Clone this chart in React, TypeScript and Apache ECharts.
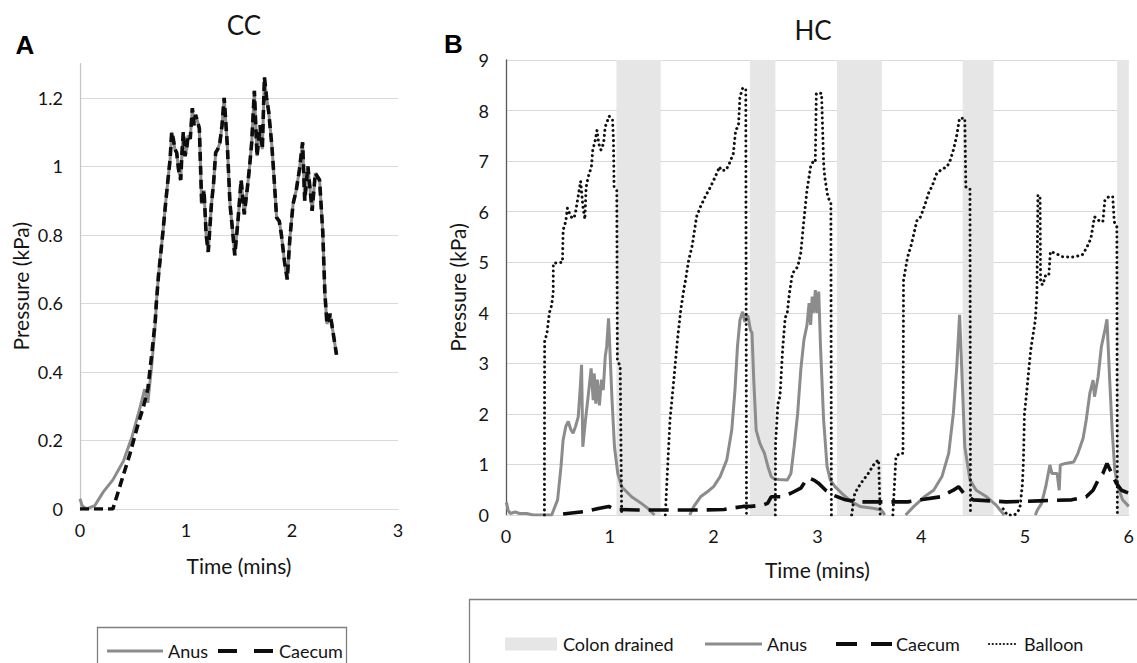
import React, { useEffect, useRef } from "react";
import * as echarts from "echarts";

const FONT = "Lato";
const TXT = "#141414";

// ---------- Panel A : CC ----------
const ccAnusStart = [
  [0, 0.03], [0.02, 0.01], [0.06, 0], [0.14, 0.01], [0.22, 0.05], [0.31, 0.085],
  [0.41, 0.14], [0.49, 0.21], [0.57, 0.3], [0.61, 0.35], [0.64, 0.31], [0.68, 0.43], [0.71, 0.54],
];
const ccCaecumStart = [
  [0, 0], [0.22, 0], [0.31, 0], [0.39, 0.08], [0.47, 0.16], [0.55, 0.25], [0.6, 0.3],
  [0.64, 0.35], [0.68, 0.46], [0.71, 0.55],
];
const ccShared = [
  [0.72, 0.6], [0.74, 0.68], [0.76, 0.74], [0.786, 0.82], [0.81, 0.9], [0.833, 0.97], [0.85, 1.02],
  [0.865, 1.1], [0.88, 1.08], [0.895, 1.05], [0.912, 1.04], [0.93, 0.99], [0.95, 0.96], [0.962, 1.04],
  [0.975, 1.1], [0.99, 1.03], [1.006, 1.05], [1.02, 1.09], [1.04, 1.08], [1.06, 1.17], [1.075, 1.12],
  [1.09, 1.15], [1.11, 1.13], [1.126, 1.11], [1.148, 0.89], [1.17, 0.93], [1.19, 0.8], [1.21, 0.75],
  [1.24, 0.89], [1.26, 0.95], [1.28, 1.04], [1.3, 1.05], [1.32, 1.07], [1.34, 1.12], [1.36, 1.2],
  [1.39, 1.06], [1.415, 0.89], [1.44, 0.81], [1.46, 0.74], [1.49, 0.84], [1.52, 0.96], [1.55, 0.86],
  [1.58, 0.94], [1.6, 1.0], [1.62, 1.07], [1.645, 1.22], [1.67, 1.03], [1.7, 1.12], [1.72, 1.05],
  [1.74, 1.26], [1.76, 1.2], [1.78, 1.16], [1.81, 1.06], [1.83, 0.97], [1.855, 0.85], [1.88, 0.84],
  [1.9, 0.8], [1.93, 0.72], [1.955, 0.67], [1.98, 0.79], [2.01, 0.89], [2.04, 0.93], [2.07, 0.99],
  [2.1, 1.07], [2.12, 0.9], [2.15, 1.0], [2.19, 0.87], [2.22, 0.98], [2.26, 0.96], [2.29, 0.81],
  [2.31, 0.63], [2.33, 0.54], [2.36, 0.57], [2.39, 0.51], [2.42, 0.45],
];
const ccAnus = [...ccAnusStart, ...ccShared];
const ccCaecum = [...ccCaecumStart, ...ccShared];

// ---------- Panel B : HC ----------
const hcDrained = [
  [1.064, 1.49], [2.35, 2.596], [3.188, 3.621], [4.4, 4.698], [5.888, 6.0],
];
const hcAnus = [
  [0, 0.25], [0.006, 0.23], [0.02, 0.1], [0.04, 0.03], [0.09, 0.06], [0.13, 0.03], [0.2, 0.03],
  [0.26, 0], [0.44, 0], [0.497, 0.3], [0.53, 0.96], [0.55, 1.48], [0.576, 1.75], [0.6, 1.85],
  [0.624, 1.69], [0.646, 1.62], [0.67, 1.75], [0.696, 1.94], [0.716, 2.54], [0.728, 2.97],
  [0.74, 1.35], [0.766, 1.88], [0.798, 2.47], [0.82, 2.9], [0.84, 2.27], [0.85, 2.8], [0.865, 2.2],
  [0.88, 2.68], [0.9, 2.17], [0.92, 2.68], [0.937, 2.47], [0.956, 3.13], [0.97, 3.33], [0.988, 3.89],
  [1.0, 3.33], [1.02, 2.34], [1.045, 1.35], [1.077, 0.82], [1.114, 0.56], [1.21, 0.36], [1.304, 0.23],
  [1.367, 0.13], [1.43, 0], [1.6, null],
  [1.77, 0], [1.81, 0.17], [1.874, 0.36], [1.94, 0.46], [2.0, 0.56], [2.063, 0.76], [2.127, 1.09],
  [2.175, 1.68], [2.206, 2.47], [2.23, 3.33], [2.254, 3.86], [2.28, 4.02], [2.3, 3.82], [2.33, 3.95],
  [2.355, 3.66], [2.37, 3.6], [2.387, 2.67], [2.41, 1.68], [2.445, 1.42], [2.49, 1.22], [2.523, 0.96],
  [2.555, 0.76], [2.586, 0.71], [2.63, 0.7], [2.71, 0.69], [2.745, 0.82], [2.776, 1.35], [2.81, 2.01],
  [2.84, 2.87], [2.87, 3.46], [2.9, 3.76], [2.92, 4.19], [2.935, 3.76], [2.95, 4.32], [2.966, 4.0],
  [2.98, 4.45], [2.998, 4.0], [3.013, 4.42], [3.03, 3.33], [3.06, 1.88], [3.093, 0.96], [3.125, 0.69],
  [3.17, 0.56], [3.235, 0.43], [3.33, 0.26], [3.41, 0.17], [3.55, 0.13], [3.615, 0.1], [3.65, 0],
  [3.75, null],
  [3.85, 0], [3.93, 0.17], [4.03, 0.36], [4.12, 0.49], [4.2, 0.76], [4.265, 1.22], [4.31, 2.01],
  [4.343, 2.93], [4.37, 3.96], [4.39, 2.93], [4.42, 1.35], [4.47, 0.69], [4.53, 0.49], [4.63, 0.36],
  [4.72, 0.2], [4.8, 0], [4.95, null],
  [5.1, 0], [5.12, 0.1], [5.16, 0.23], [5.2, 0.56], [5.24, 0.99], [5.26, 0.82], [5.31, 0.82],
  [5.33, 0.49], [5.34, 0.99], [5.39, 1.02], [5.47, 1.05], [5.51, 1.22], [5.56, 1.52], [5.59, 1.88],
  [5.625, 2.41], [5.656, 2.67], [5.67, 2.34], [5.705, 2.74], [5.736, 3.33], [5.77, 3.66], [5.79, 3.87],
  [5.816, 2.67], [5.84, 1.68], [5.865, 0.89], [5.895, 0.56], [5.94, 0.3], [6.0, 0.17],
];
const hcCaecum = [
  [0.55, 0.02], [0.59, 0.03], [0.77, 0.07], [0.89, 0.13], [0.99, 0.17], [1.05, 0.11], [1.27, 0.1],
  [1.58, 0.1], [1.906, 0.1], [2.1, 0.11], [2.286, 0.17], [2.365, 0.17], [2.476, 0.2], [2.52, 0.23],
  [2.555, 0.36], [2.65, 0.36], [2.745, 0.43], [2.84, 0.53], [2.9, 0.72], [2.92, 0.73], [2.966, 0.69],
  [3.01, 0.63], [3.08, 0.49], [3.157, 0.39], [3.27, 0.3], [3.39, 0.26], [3.62, 0.26], [3.87, 0.26],
  [3.995, 0.3], [4.185, 0.36], [4.31, 0.49], [4.36, 0.56], [4.41, 0.43], [4.5, 0.3], [4.82, 0.26],
  [5.135, 0.28], [5.45, 0.3], [5.59, 0.36], [5.656, 0.49], [5.705, 0.69], [5.75, 0.82], [5.79, 1.02],
  [5.83, 0.85], [5.88, 0.63], [5.93, 0.49], [6.0, 0.43],
];
const hcBalloon = [
  [0.37, 0], [0.372, 3.43], [0.395, 3.6], [0.418, 4.0], [0.44, 4.15], [0.455, 4.4], [0.456, 4.98],
  [0.544, 5.0], [0.551, 5.64], [0.575, 5.8], [0.592, 6.07], [0.624, 5.9], [0.655, 5.87], [0.671, 6.0],
  [0.703, 6.4], [0.719, 6.6], [0.741, 6.1], [0.76, 5.85], [0.772, 6.49], [0.791, 6.68], [0.823, 6.89],
  [0.836, 7.22], [0.861, 7.42], [0.877, 7.61], [0.893, 7.35], [0.915, 7.22], [0.94, 7.35], [0.956, 7.68],
  [0.994, 7.89], [1.026, 7.82], [1.035, 7.42], [1.041, 6.49], [1.067, 6.42], [1.073, 3.07], [1.1, 2.94],
  [1.114, 0], [1.3, null],
  [1.535, 0], [1.551, 0.69], [1.58, 1.88], [1.62, 2.74], [1.652, 3.47], [1.684, 4.06], [1.716, 4.5],
  [1.73, 4.65], [1.76, 5.04], [1.795, 5.34], [1.836, 5.9], [1.874, 6.1], [1.92, 6.3], [1.97, 6.49],
  [2.016, 6.69], [2.058, 6.89], [2.07, 6.82], [2.12, 6.82], [2.153, 6.96], [2.19, 7.15], [2.213, 7.61],
  [2.24, 7.7], [2.254, 8.27], [2.28, 8.44], [2.31, 8.44], [2.317, 0], [2.45, null],
  [2.595, 0], [2.597, 1.4], [2.62, 2.2], [2.64, 2.35], [2.666, 3.3], [2.69, 3.9], [2.71, 4.0],
  [2.73, 4.38], [2.76, 4.78], [2.81, 4.91], [2.84, 5.18], [2.87, 5.83], [2.9, 6.43], [2.935, 6.89],
  [2.966, 7.02], [2.98, 7.0], [2.99, 8.34], [3.04, 8.34], [3.06, 6.96], [3.07, 6.7], [3.1, 6.3],
  [3.13, 6.16], [3.135, 0], [3.2, null],
  [3.33, 0], [3.36, 0.43], [3.42, 0.63], [3.49, 0.82], [3.55, 1.02], [3.59, 1.09], [3.605, 0], [3.65, null],
  [3.727, 0], [3.757, 1.15], [3.79, 1.22], [3.825, 1.22], [3.83, 4.65], [3.87, 5.11], [3.9, 5.31],
  [3.93, 5.57], [3.96, 5.83], [3.995, 5.9], [4.04, 6.16], [4.07, 6.36], [4.11, 6.53], [4.15, 6.76],
  [4.2, 6.84], [4.25, 6.89], [4.28, 7.02], [4.31, 7.22], [4.34, 7.48], [4.37, 7.85], [4.42, 7.85],
  [4.43, 6.49], [4.47, 6.46], [4.475, 0], [4.6, null],
  [4.79, 0.12], [4.83, 0.0], [4.9, 0.0], [4.95, 0.12], [4.975, 0.6], [4.985, 1.05], [4.995, 2.0],
  [5.015, 2.4], [5.055, 3.26], [5.1, 3.86], [5.115, 4.38], [5.125, 6.33], [5.145, 6.3], [5.15, 4.6],
  [5.17, 4.55], [5.2, 4.75], [5.23, 4.75], [5.245, 5.21], [5.29, 5.18], [5.36, 5.11], [5.45, 5.1],
  [5.55, 5.14], [5.59, 5.27], [5.635, 5.47], [5.67, 5.9], [5.705, 5.83], [5.75, 5.8], [5.77, 6.23],
  [5.81, 6.3], [5.845, 6.3], [5.86, 5.8], [5.885, 5.7], [5.89, 0],
];

const tickLabel = { fontFamily: FONT, fontSize: 18, color: TXT };
const nameStyle = { fontFamily: FONT, fontSize: 21, color: TXT };

export default function App() {
  const ref = useRef<HTMLDivElement>(null);
  useEffect(() => {
    if (!ref.current) return;
    const chart = echarts.init(ref.current, undefined, { renderer: "svg" });
    const grey = "#8c8c8c";
    const option: any = {
      animation: false,
      backgroundColor: "#ffffff",
      grid: [
        { left: 80, top: 63.5, width: 318, height: 445.5 },
        { left: 506, top: 60, width: 631, height: 455 },
      ],
      xAxis: [
        {
          gridIndex: 0, type: "value", min: 0, max: 3, interval: 1,
          axisLine: { lineStyle: { color: "#d9d9d9", width: 1.2 } },
          axisTick: { show: false }, splitLine: { show: false },
          axisLabel: { ...tickLabel, margin: 12 },
          name: "Time (mins)", nameLocation: "middle", nameGap: 46, nameTextStyle: nameStyle,
        },
        {
          gridIndex: 1, type: "value", min: 0, max: 6, interval: 1,
          axisLine: { lineStyle: { color: "#d9d9d9", width: 1.2 } },
          axisTick: { show: false }, splitLine: { show: false },
          axisLabel: { ...tickLabel, margin: 12 },
          name: "Time (mins)", nameLocation: "middle", nameGap: 44, nameTextStyle: nameStyle,
        },
      ],
      yAxis: [
        {
          gridIndex: 0, type: "value", min: 0, max: 1.3, interval: 0.2,
          axisLine: { show: true, lineStyle: { color: "#c4c4c4", width: 1.2 } },
          axisTick: { show: false },
          axisLabel: { ...tickLabel, margin: 17, showMaxLabel: false },
          splitLine: {
            lineStyle: {
              color: ["#d9d9d9", "#d9d9d9", "#d9d9d9", "#d9d9d9", "#d9d9d9", "#d9d9d9", "#d9d9d9", "rgba(0,0,0,0)"],
              width: 1,
            },
          },
          name: "Pressure (kPa)", nameLocation: "middle", nameRotate: 90, nameGap: 49, nameTextStyle: nameStyle,
        },
        {
          gridIndex: 1, type: "value", min: 0, max: 9, interval: 1,
          axisLine: { show: true, lineStyle: { color: "#595959", width: 1.3 } },
          axisTick: { show: false },
          axisLabel: { ...tickLabel, margin: 17 },
          splitLine: { lineStyle: { color: "#d9d9d9", width: 1 } },
          name: "Pressure (kPa)", nameLocation: "middle", nameRotate: 90, nameGap: 34, nameTextStyle: nameStyle,
        },
      ],
      series: [
        {
          name: "Anus", type: "line", xAxisIndex: 0, yAxisIndex: 0, data: ccAnus,
          symbol: "none", showSymbol: false, z: 2,
          lineStyle: { color: grey, width: 3 },
        },
        {
          name: "Caecum", type: "line", xAxisIndex: 0, yAxisIndex: 0, data: ccCaecum,
          symbol: "none", showSymbol: false, z: 3,
          lineStyle: { color: "#0d0d0d", width: 3.6, type: [9, 5] },
        },
        {
          name: "Colon drained", type: "line", xAxisIndex: 1, yAxisIndex: 1, data: [],
          symbol: "none", z: 1,
          markArea: {
            silent: true,
            itemStyle: { color: "#e6e6e6" },
            data: hcDrained.map(([a, b]) => [{ xAxis: a }, { xAxis: b }]),
          },
        },
        {
          name: "Anus", type: "line", xAxisIndex: 1, yAxisIndex: 1, data: hcAnus,
          symbol: "none", showSymbol: false, z: 3, connectNulls: false,
          lineStyle: { color: grey, width: 3 },
        },
        {
          name: "Caecum", type: "line", xAxisIndex: 1, yAxisIndex: 1, data: hcCaecum,
          symbol: "none", showSymbol: false, z: 4,
          lineStyle: { color: "#0d0d0d", width: 3.6, type: [20, 9] },
        },
        {
          name: "Balloon", type: "line", xAxisIndex: 1, yAxisIndex: 1, data: hcBalloon,
          symbol: "none", showSymbol: false, z: 5, connectNulls: false,
          lineStyle: { color: "#111111", width: 3, type: [0.1, 5], cap: "round", join: "round" },
        },
      ],
      graphic: [
        { type: "text", x: 25, y: 45, style: { text: "A", fontFamily: "Liberation Sans", fontWeight: "bold", fontSize: 26, fill: "#000", align: "center", verticalAlign: "middle" } },
        { type: "text", x: 453.5, y: 44, style: { text: "B", fontFamily: "Liberation Sans", fontWeight: "bold", fontSize: 26, fill: "#000", align: "center", verticalAlign: "middle" } },
        { type: "text", x: 244, y: 25, style: { text: "CC", fontFamily: FONT, fontSize: 26, fill: TXT, align: "center", verticalAlign: "middle" } },
        { type: "text", x: 813, y: 29.5, style: { text: "HC", fontFamily: FONT, fontSize: 26, fill: TXT, align: "center", verticalAlign: "middle" } },
        // Legend A
        { type: "rect", shape: { x: 97.5, y: 627.5, width: 249, height: 80 }, style: { fill: "none", stroke: "#7f7f7f", lineWidth: 1.3 } },
        { type: "line", shape: { x1: 107, y1: 651, x2: 163, y2: 651 }, style: { stroke: grey, lineWidth: 3 } },
        { type: "text", x: 168, y: 651, style: { text: "Anus", fontFamily: FONT, fontSize: 18, fill: TXT, align: "left", verticalAlign: "middle" } },
        { type: "line", shape: { x1: 218, y1: 651, x2: 274, y2: 651 }, style: { stroke: "#0d0d0d", lineWidth: 4, lineDash: [19, 17] } },
        { type: "text", x: 279, y: 651, style: { text: "Caecum", fontFamily: FONT, fontSize: 18, fill: TXT, align: "left", verticalAlign: "middle" } },
        // Legend B
        { type: "rect", shape: { x: 469.5, y: 599.5, width: 700, height: 100 }, style: { fill: "none", stroke: "#7f7f7f", lineWidth: 1.3 } },
        { type: "rect", shape: { x: 505, y: 637.5, width: 52, height: 13 }, style: { fill: "#e6e6e6" } },
        { type: "text", x: 563, y: 644, style: { text: "Colon drained", fontFamily: FONT, fontSize: 18, fill: TXT, align: "left", verticalAlign: "middle" } },
        { type: "line", shape: { x1: 705, y1: 644, x2: 762, y2: 644 }, style: { stroke: grey, lineWidth: 3 } },
        { type: "text", x: 767, y: 644, style: { text: "Anus", fontFamily: FONT, fontSize: 18, fill: TXT, align: "left", verticalAlign: "middle" } },
        { type: "line", shape: { x1: 836, y1: 644, x2: 892, y2: 644 }, style: { stroke: "#0d0d0d", lineWidth: 4, lineDash: [21, 14] } },
        { type: "text", x: 896, y: 644, style: { text: "Caecum", fontFamily: FONT, fontSize: 18, fill: TXT, align: "left", verticalAlign: "middle" } },
        { type: "line", shape: { x1: 989, y1: 644, x2: 1018, y2: 644 }, style: { stroke: "#111111", lineWidth: 2.2, lineDash: [0.1, 3.6], lineCap: "round" } },
        { type: "text", x: 1024, y: 644, style: { text: "Balloon", fontFamily: FONT, fontSize: 18, fill: TXT, align: "left", verticalAlign: "middle" } },
      ],
    };
    chart.setOption(option);
    return () => chart.dispose();
  }, []);
  return (
    <div
      ref={ref}
      style={{ position: "fixed", left: 0, top: 0, width: 1137, height: 663, background: "#fff" }}
    />
  );
}
